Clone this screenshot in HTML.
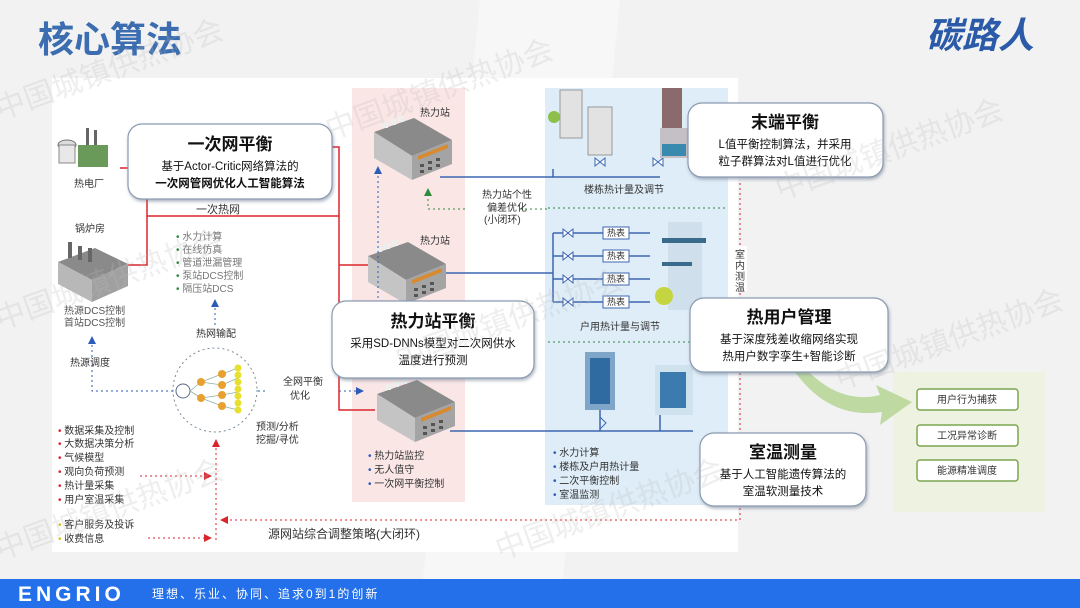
<!DOCTYPE html>
<html><head><meta charset="utf-8"><style>
html,body{margin:0;padding:0;width:1080px;height:608px;overflow:hidden;background:#f3f3f4}
svg{display:block;font-family:"Liberation Sans","Noto Sans CJK SC",sans-serif;overflow:hidden}
</style></head><body>
<svg width="1080" height="608" viewBox="0 0 1080 608" xmlns="http://www.w3.org/2000/svg">
<defs>
<filter id="sh" x="-10%" y="-10%" width="130%" height="140%"><feDropShadow dx="1" dy="2" stdDeviation="1.5" flood-color="#6a7a90" flood-opacity="0.55"/></filter>
<marker id="ab" markerWidth="8" markerHeight="8" refX="4" refY="4" orient="auto"><path d="M0,0L8,4L0,8z" fill="#2a5cb8"/></marker>
<marker id="ar" markerWidth="8" markerHeight="8" refX="4" refY="4" orient="auto"><path d="M0,0L8,4L0,8z" fill="#d9262c"/></marker>
<marker id="ag" markerWidth="8" markerHeight="8" refX="4" refY="4" orient="auto"><path d="M0,0L8,4L0,8z" fill="#2e8b3e"/></marker>
<g id="stn">
<polygon points="0,14 40,0 78,22 38,38" fill="#8a8a8a"/>
<polygon points="0,14 38,38 38,62 0,40" fill="#c4c4c4"/>
<polygon points="38,38 78,22 78,46 38,62" fill="#a4a4a4"/>
<polygon points="44,38 74,26 74,30 44,42" fill="#d88a30"/>
<rect x="8" y="4" width="6" height="6" fill="#eee"/><rect x="16" y="1" width="6" height="6" fill="#eee"/><rect x="24" y="-2" width="6" height="6" fill="#eee"/>
<g fill="#555"><rect x="46" y="46" width="4" height="3"/><rect x="54" y="43" width="4" height="3"/><rect x="62" y="40" width="4" height="3"/><rect x="46" y="52" width="4" height="3"/><rect x="54" y="49" width="4" height="3"/><rect x="62" y="46" width="4" height="3"/></g>
</g>
</defs>
<rect width="1080" height="608" fill="#f2f2f3"/>
<polygon points="480,0 620,0 560,608 420,608" fill="#f7f7f8"/>
<text x="38" y="52" font-size="36" font-weight="bold" fill="#3b6db0">核心算法</text>
<text x="926" y="48" font-size="36" font-weight="bold" fill="#2a5aa8" font-style="italic">碳路人</text>
<rect x="52" y="78" width="686" height="474" fill="#ffffff"/>
<rect x="352" y="88" width="113" height="414" fill="#fbe6e6"/>
<rect x="545" y="88" width="183" height="417" fill="#deedf7"/>
<rect x="893" y="372" width="152" height="140" fill="#eef3e1"/>
<g stroke="#d9262c" stroke-width="1.5" fill="none">
<path d="M120,168H128"/>
<path d="M332,147H339V410H375"/>
<path d="M147,199V265H128"/>
<path d="M147,216H339"/>
<path d="M339,265H370"/>
</g>
<text x="196" y="213" font-size="11" fill="#333">一次热网</text>
<g stroke="#3d66b0" stroke-width="1.5" fill="none">
<path d="M440,177H553"/><path d="M445,273H553"/><path d="M450,431H693"/>
<path d="M553,169V177H660"/>
<path d="M553,233V302M553,233H650M553,256H650M553,279H650M553,302H650"/>
<path d="M600,410V431M660,410V431"/>
</g>
<g fill="#fff" stroke="#3d66b0" stroke-width="1">
<path d="M595,158l10,8v-8l-10,8z"/><path d="M653,158l10,8v-8l-10,8z"/>
<path d="M563,229l10,8v-8l-10,8z"/><path d="M563,252l10,8v-8l-10,8z"/><path d="M563,275l10,8v-8l-10,8z"/><path d="M563,298l10,8v-8l-10,8z"/>
<path d="M600,417l6,6l-6,6l6,-6z"/>
<rect x="603" y="227" width="26" height="12"/><rect x="603" y="250" width="26" height="12"/><rect x="603" y="273" width="26" height="12"/><rect x="603" y="296" width="26" height="12"/>
</g>
<g font-size="9" fill="#333"><text x="607" y="236">热表</text><text x="607" y="259">热表</text><text x="607" y="282">热表</text><text x="607" y="305">热表</text></g>
<rect x="560" y="90" width="22" height="48" fill="#e2e2e2" stroke="#999"/>
<rect x="588" y="107" width="24" height="48" fill="#e2e2e2" stroke="#999"/>
<circle cx="554" cy="117" r="6" fill="#8cc04a"/>
<rect x="662" y="88" width="20" height="40" fill="#8a6a6a"/>
<rect x="660" y="128" width="28" height="30" fill="#c4c0c6"/>
<rect x="662" y="144" width="24" height="12" fill="#3a8ab0"/>
<text x="584" y="193" font-size="10" fill="#333">楼栋热计量及调节</text>
<line x1="548" y1="208" x2="728" y2="208" stroke="#2e8b3e" stroke-dasharray="2,3"/>
<rect x="668" y="222" width="34" height="88" fill="#cfe0ec"/>
<rect x="662" y="238" width="44" height="5" fill="#3a6b8a"/>
<rect x="662" y="262" width="30" height="4" fill="#3a6b8a"/>
<circle cx="664" cy="296" r="9" fill="#c5d542"/>
<text x="580" y="330" font-size="10" fill="#333">户用热计量与调节</text>
<line x1="548" y1="342" x2="728" y2="342" stroke="#2e8b3e" stroke-dasharray="2,3"/>
<rect x="585" y="352" width="30" height="58" fill="#7fa6c8"/><rect x="590" y="358" width="20" height="46" fill="#2f6aa0"/>
<rect x="655" y="365" width="38" height="50" fill="#cfe3ee"/><rect x="660" y="372" width="26" height="36" fill="#3c7bb0"/>
<g font-size="10" fill="#333">
<text x="553" y="456"><tspan fill="#2a5cb8">•</tspan> 水力计算</text>
<text x="553" y="470"><tspan fill="#2a5cb8">•</tspan> 楼栋及户用热计量</text>
<text x="553" y="484"><tspan fill="#2a5cb8">•</tspan> 二次平衡控制</text>
<text x="553" y="498"><tspan fill="#2a5cb8">•</tspan> 室温监测</text>
</g>
<use href="#stn" x="374" y="118"/>
<use href="#stn" x="368" y="242"/>
<use href="#stn" x="377" y="380"/>
<g font-size="10" fill="#333">
<text x="420" y="116">热力站</text><text x="420" y="244">热力站</text>
<text x="482" y="198">热力站个性</text><text x="487" y="211">偏差优化</text><text x="484" y="223">(小闭环)</text>
<text x="368" y="459"><tspan fill="#2a5cb8">•</tspan> 热力站监控</text>
<text x="368" y="473"><tspan fill="#2a5cb8">•</tspan> 无人值守</text>
<text x="368" y="487"><tspan fill="#2a5cb8">•</tspan> 一次网平衡控制</text>
</g>
<path d="M465,209H428V192" stroke="#2e8b3e" stroke-dasharray="2,3" fill="none" marker-end="url(#ag)"/>
<path d="M520,209H548" stroke="#2e8b3e" stroke-dasharray="2,3"/>
<path d="M378,378V170" stroke="#2a5cb8" stroke-dasharray="2,3" fill="none" marker-end="url(#ab)"/>
<ellipse cx="67" cy="145" rx="9" ry="5" fill="#ddd" stroke="#777"/><rect x="59" y="145" width="16" height="18" fill="#e8e8e8" stroke="#888"/>
<rect x="78" y="145" width="30" height="22" fill="#6a9a5a"/><rect x="86" y="128" width="3" height="17" fill="#666"/><rect x="94" y="130" width="3" height="15" fill="#666"/>
<text x="74" y="187" font-size="10" fill="#333">热电厂</text>
<text x="75" y="232" font-size="10" fill="#333">锅炉房</text>
<polygon points="58,262 95,248 128,264 92,280" fill="#8a8a8a"/><polygon points="58,262 92,280 92,302 58,284" fill="#b8b8b8"/><polygon points="92,280 128,264 128,286 92,302" fill="#a0a0a0"/>
<rect x="68" y="242" width="4" height="16" fill="#666"/><rect x="78" y="246" width="4" height="14" fill="#666"/><rect x="88" y="248" width="4" height="14" fill="#666"/>
<g font-size="10" fill="#555"><text x="64" y="314">热源DCS控制</text><text x="64" y="326">首站DCS控制</text></g>
<g font-size="10" fill="#777">
<text x="176" y="240"><tspan fill="#2e8b3e">•</tspan> 水力计算</text>
<text x="176" y="253"><tspan fill="#2e8b3e">•</tspan> 在线仿真</text>
<text x="176" y="266"><tspan fill="#2e8b3e">•</tspan> 管道泄漏管理</text>
<text x="176" y="279"><tspan fill="#2e8b3e">•</tspan> 泵站DCS控制</text>
<text x="176" y="292"><tspan fill="#2e8b3e">•</tspan> 隔压站DCS</text>
</g>
<path d="M215,325V303" stroke="#2a5cb8" stroke-dasharray="2,3" marker-end="url(#ab)"/>
<text x="196" y="337" font-size="10" fill="#333">热网输配</text>
<circle cx="215" cy="390" r="42" fill="none" stroke="#7a8a9a" stroke-dasharray="2,3"/>
<circle cx="183" cy="391" r="7" fill="#fff" stroke="#5a6a8a"/>
<g stroke="#8fb0a0" fill="none" stroke-width="0.8"><path d="M190,391L201,382M190,391L201,398M201,382L222,374L238,368M201,382L222,385L238,378M201,398L222,395L238,392M201,398L222,406L238,410"/></g>
<g fill="#e8a030"><circle cx="201" cy="382" r="4"/><circle cx="201" cy="398" r="4"/><circle cx="222" cy="374" r="4"/><circle cx="222" cy="385" r="4"/><circle cx="222" cy="395" r="4"/><circle cx="222" cy="406" r="4"/></g>
<g fill="#e8e030"><circle cx="238" cy="368" r="3.5"/><circle cx="238" cy="375" r="3.5"/><circle cx="238" cy="382" r="3.5"/><circle cx="238" cy="389" r="3.5"/><circle cx="238" cy="396" r="3.5"/><circle cx="238" cy="403" r="3.5"/><circle cx="238" cy="410" r="3.5"/></g>
<path d="M173,391H92V340" stroke="#2a5cb8" stroke-dasharray="2,3" fill="none" marker-end="url(#ab)"/>
<text x="70" y="366" font-size="10" fill="#333">热源调度</text>
<path d="M258,391H268" stroke="#2a5cb8" stroke-dasharray="2,3"/>
<text x="283" y="385" font-size="10" fill="#333">全网平衡</text><text x="290" y="399" font-size="10" fill="#333">优化</text>
<path d="M339,391H360" stroke="#2a5cb8" stroke-dasharray="2,3" marker-end="url(#ab)"/>
<text x="256" y="430" font-size="10" fill="#333">预测/分析</text><text x="256" y="443" font-size="10" fill="#333">挖掘/寻优</text>
<g font-size="10" fill="#333">
<text x="58" y="434"><tspan fill="#d9262c">•</tspan> 数据采集及控制</text>
<text x="58" y="447"><tspan fill="#d9262c">•</tspan> 大数据决策分析</text>
<text x="58" y="461"><tspan fill="#d9262c">•</tspan> 气候模型</text>
<text x="58" y="475"><tspan fill="#d9262c">•</tspan> 观向负荷预测</text>
<text x="58" y="489"><tspan fill="#d9262c">•</tspan> 热计量采集</text>
<text x="58" y="503"><tspan fill="#d9262c">•</tspan> 用户室温采集</text>
<text x="58" y="528"><tspan fill="#d8c020">•</tspan> 客户服务及投诉</text>
<text x="58" y="542"><tspan fill="#d8c020">•</tspan> 收费信息</text>
</g>
<g stroke="#d9262c" stroke-dasharray="2,3" fill="none">
<path d="M216,540V443" marker-end="url(#ar)"/>
<path d="M140,476H208" marker-end="url(#ar)"/>
<path d="M148,538H208" marker-end="url(#ar)"/>
<path d="M740,183V520H224" marker-end="url(#ar)"/>
</g>
<rect x="733" y="246" width="14" height="46" fill="#fff"/>
<g font-size="10" fill="#333"><text x="735" y="258">室</text><text x="735" y="269">内</text><text x="735" y="280">测</text><text x="735" y="291">温</text></g>
<text x="268" y="538" font-size="12" fill="#333">源网站综合调整策略(大闭环)</text>
<path d="M805,368Q840,405 880,395L876,385L912,402L880,425L882,412Q830,420 795,372z" fill="#b9d69a" opacity="0.9"/>
<g fill="#fff" stroke="#7aa650" stroke-width="1.5">
<rect x="917" y="389" width="101" height="21" rx="3"/><rect x="917" y="425" width="101" height="21" rx="3"/><rect x="917" y="460" width="101" height="21" rx="3"/>
</g>
<g font-size="10" fill="#333" text-anchor="middle"><text x="967" y="403">用户行为捕获</text><text x="967" y="439">工况异常诊断</text><text x="967" y="474">能源精准调度</text></g>
<g fill="#fff" stroke="#8a9ab0" stroke-width="1.2" filter="url(#sh)">
<rect x="128" y="124" width="204" height="75" rx="14"/>
<rect x="332" y="301" width="202" height="77" rx="14"/>
<rect x="688" y="103" width="195" height="74" rx="14"/>
<rect x="690" y="298" width="198" height="74" rx="14"/>
<rect x="700" y="433" width="166" height="73" rx="14"/>
</g>
<g text-anchor="middle" fill="#111">
<text x="230" y="150" font-size="17" font-weight="bold">一次网平衡</text>
<text x="230" y="170" font-size="11.5">基于Actor-Critic网络算法的</text>
<text x="230" y="187" font-size="11.5" font-weight="bold">一次网管网优化人工智能算法</text>
<text x="433" y="327" font-size="17" font-weight="bold">热力站平衡</text>
<text x="433" y="347" font-size="11.5">采用SD-DNNs模型对二次网供水</text>
<text x="433" y="364" font-size="11.5">温度进行预测</text>
<text x="785" y="128" font-size="17" font-weight="bold">末端平衡</text>
<text x="785" y="148" font-size="11.5">L值平衡控制算法，并采用</text>
<text x="785" y="165" font-size="11.5">粒子群算法对L值进行优化</text>
<text x="789" y="323" font-size="17" font-weight="bold">热用户管理</text>
<text x="789" y="343" font-size="11.5">基于深度残差收缩网络实现</text>
<text x="789" y="360" font-size="11.5">热用户数字孪生+智能诊断</text>
<text x="783" y="458" font-size="17" font-weight="bold">室温测量</text>
<text x="783" y="478" font-size="11.5">基于人工智能遗传算法的</text>
<text x="783" y="495" font-size="11.5">室温软测量技术</text>
</g>
<g font-size="30" fill="#bbb" opacity="0.25">
<text x="0" y="120" transform="rotate(-20 0 120)">中国城镇供热协会</text>
<text x="330" y="140" transform="rotate(-20 330 140)">中国城镇供热协会</text>
<text x="780" y="200" transform="rotate(-20 780 200)">中国城镇供热协会</text>
<text x="0" y="330" transform="rotate(-20 0 330)">中国城镇供热协会</text>
<text x="400" y="370" transform="rotate(-20 400 370)">中国城镇供热协会</text>
<text x="840" y="390" transform="rotate(-20 840 390)">中国城镇供热协会</text>
<text x="0" y="560" transform="rotate(-20 0 560)">中国城镇供热协会</text>
<text x="500" y="560" transform="rotate(-20 500 560)">中国城镇供热协会</text>
</g>
<rect x="0" y="579" width="1080" height="29" fill="#2370ea"/>
<text x="18" y="601" font-size="21" font-weight="bold" fill="#fff" letter-spacing="4">ENGRIO</text>
<text x="152" y="598" font-size="12" fill="#fff" letter-spacing="2">理想、乐业、协同、追求0到1的创新</text>
</svg>
</body></html>
